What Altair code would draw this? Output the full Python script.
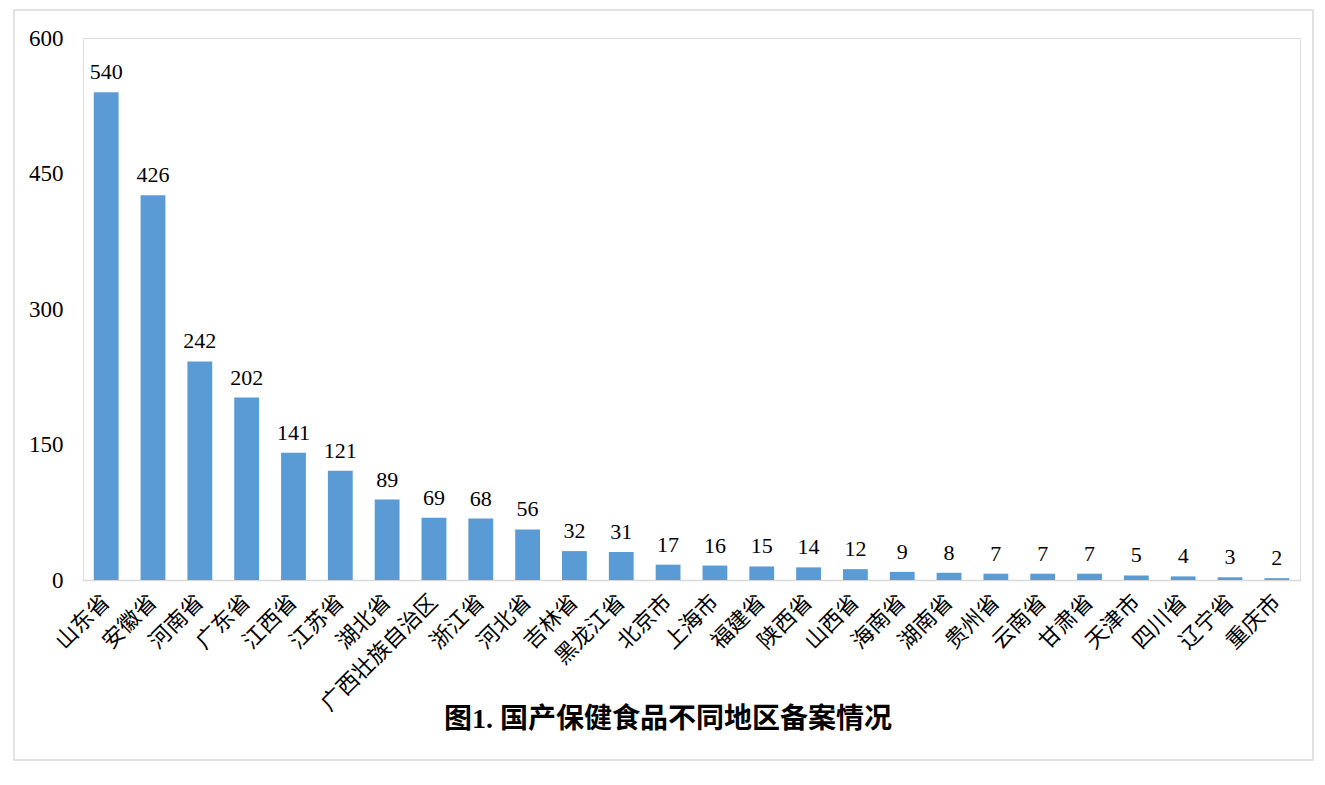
import altair as alt
import pandas as pd

regions = ["山东省", "安徽省", "河南省", "广东省", "江西省", "江苏省", "湖北省", "广西壮族自治区",
           "浙江省", "河北省", "吉林省", "黑龙江省", "北京市", "上海市", "福建省", "陕西省",
           "山西省", "海南省", "湖南省", "贵州省", "云南省", "甘肃省", "天津市", "四川省",
           "辽宁省", "重庆市"]
counts = [540, 426, 242, 202, 141, 121, 89, 69, 68, 56, 32, 31, 17, 16, 15, 14,
          12, 9, 8, 7, 7, 7, 5, 4, 3, 2]
y_ticks = [0, 150, 300, 450, 600]
title_text = "图1. 国产保健食品不同地区备案情况"

df = pd.DataFrame({"region": regions, "count": counts})

FONT = "Liberation Serif, Times New Roman, Noto Sans CJK SC"
W, H = 1217, 542

x_enc = alt.X("region:N", sort=regions, title=None,
              scale=alt.Scale(paddingInner=0.47, paddingOuter=0.23),
              axis=alt.Axis(labelAngle=-45, labelAlign="right", labelBaseline="middle",
                            labelFontSize=22, labelFont=FONT, labelColor="#000000",
                            labelPadding=18, ticks=False, domainColor="#d9d9d9",
                            domainWidth=1.5, labelLimit=300))
y_enc = alt.Y("count:Q", title=None,
              scale=alt.Scale(domain=[0, 600], nice=False),
              axis=alt.Axis(values=y_ticks, grid=False, domain=False, ticks=False,
                            labelFontSize=23, labelFont=FONT, labelColor="#000000",
                            labelPadding=20))

base = alt.Chart(df)
bars = base.mark_bar(color="#5B9BD5").encode(x=x_enc, y=y_enc)
labels = base.mark_text(baseline="bottom", dy=-8, fontSize=22, font=FONT,
                        color="#000000").encode(x=alt.X("region:N", sort=regions),
                                                y="count:Q", text="count:Q")

frame = alt.Chart(pd.DataFrame({"k": [0]})).mark_rect(
    fill=None, stroke="#d9d9d9", strokeWidth=1.5).encode(
    x=alt.value(-69), x2=alt.value(1230), y=alt.value(-28), y2=alt.value(722))

title = alt.Chart(pd.DataFrame({"t": [title_text]})).mark_text(
    fontSize=28, fontWeight="bold", font="Liberation Serif, Noto Sans CJK SC",
    color="#000000", align="center", baseline="middle").encode(
    x=alt.value(585), y=alt.value(682), text="t:N")

chart = alt.layer(frame, bars, labels, title).properties(
    width=W, height=H,
    autosize=alt.AutoSizeParams(type="none"),
    padding={"left": 75, "top": 30, "right": 16, "bottom": 190},
).configure_view(stroke=None).configure(background="#ffffff")

chart.save("out.html", embed_options={"renderer": "svg", "actions": False})
